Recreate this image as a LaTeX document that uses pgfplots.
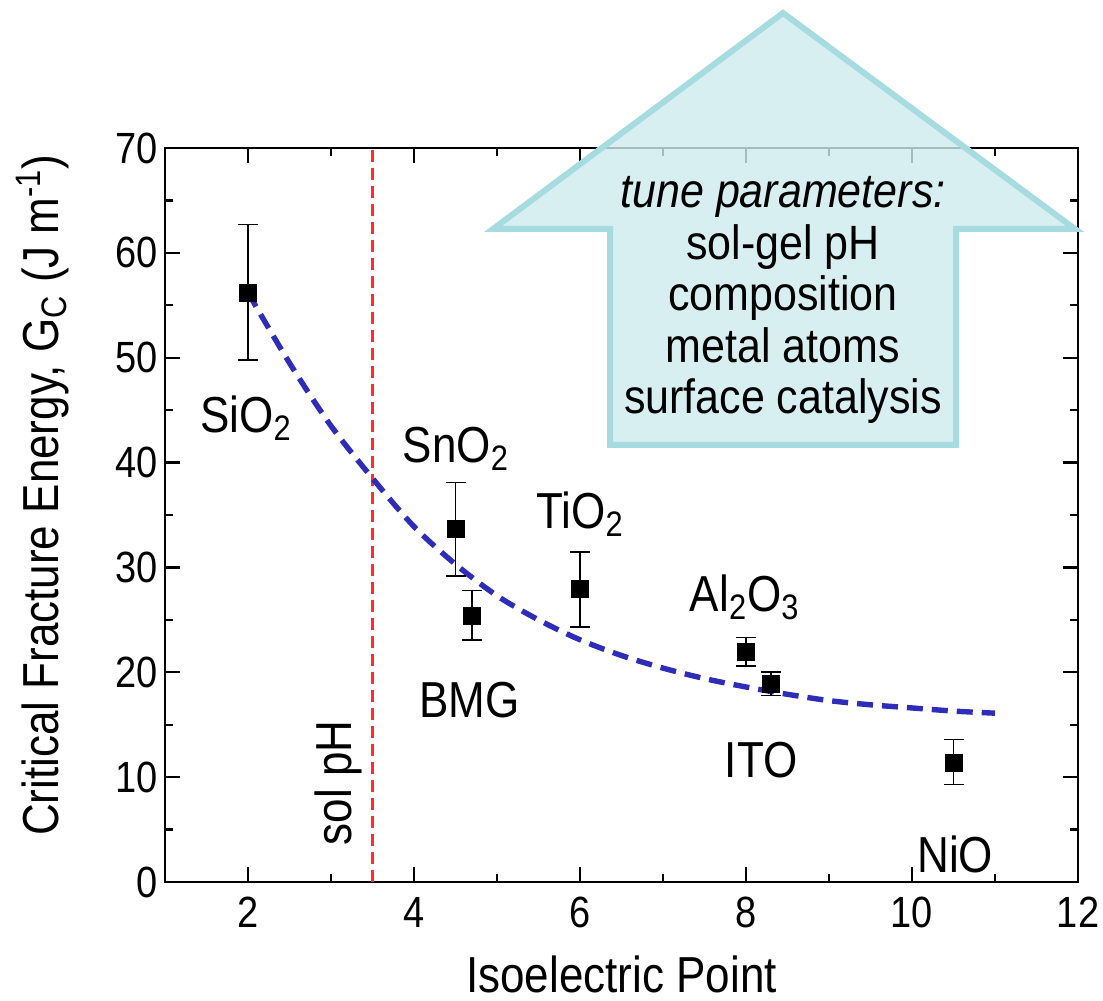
\documentclass[border=0pt]{standalone}
\usepackage{fontspec}
\setmainfont{Liberation Sans}
\usepackage{pgfplots}
\pgfplotsset{compat=1.18}
\definecolor{arrowfill}{RGB}{206,235,238}
\definecolor{arrowedge}{RGB}{166,220,223}
\definecolor{curveblue}{RGB}{45,45,185}
\definecolor{solred}{RGB}{255,45,45}
\begin{document}
\begin{tikzpicture}
\path[use as bounding box] (-82.5pt,-59.5pt) rectangle (469pt,441pt);
\begin{axis}[
  scale only axis, width=456.5pt, height=367pt,
  at={(0pt,0pt)}, anchor=south west,
  xmin=1, xmax=12, ymin=0, ymax=70,
  xtick={2,4,...,12}, ytick={0,10,...,70},
  minor x tick num=1, minor y tick num=1,
  tick align=inside,
  major tick length=7.5pt, minor tick length=4pt,
  every tick/.style={black, line width=1.2pt},
  axis line style={line width=1.4pt},
  tick label style={font=\fontsize{19}{19}\selectfont, yscale=1.15},
  /pgf/number format/assume math mode=true,
  xticklabel style={yshift=-3pt},
  label style={font=\fontsize{22}{22}\selectfont},
  xlabel={Isoelectric Point},
  xlabel style={at={(axis description cs:0.5,-0.15)}, anchor=base, inner sep=0pt, yscale=1.15},
  ylabel={Critical Fracture Energy, G\textsubscript{C} (J m\textsuperscript{-1})},
  ylabel style={at={(axis description cs:-0.117,0.527)}, anchor=base, inner sep=0pt, yscale=1.15},
  clip=false,
]
\addplot[solred, line width=1.5pt, dash pattern=on 6pt off 3pt] coordinates {(3.5,0) (3.5,70)};
\addplot[curveblue, line width=2.7pt, dash pattern=on 8pt off 4.5pt, smooth] coordinates {
(2,56.2) (2.5,49.5) (3,43.5) (3.5,38.5) (4,33.9) (4.5,30.3) (5,27.3) (5.5,25.0)
(6,23.1) (6.5,21.6) (7,20.4) (7.5,19.4) (8,18.6) (8.5,17.9) (9,17.3) (9.5,16.9)
(10,16.6) (10.5,16.3) (11,16.1)};
\addplot[only marks, mark=square*, mark size=4.25pt, black,
  error bars/.cd, y dir=both, y explicit,
  error bar style={line width=0.8pt, black},
  error mark options={rotate=90, mark size=5pt, line width=0.8pt, black}]
  table[x=x, y=y, y error plus=ep, y error minus=em] {
x y ep em
2 56.2 6.5 6.4
4.5 33.7 4.4 4.5
4.7 25.4 2.4 2.3
6 28.0 3.5 3.7
8 21.9 1.4 1.3
8.3 18.9 1.1 1.1
10.5 11.4 2.2 2.1
};
\begin{scope}[font=\fontsize{22}{22}\selectfont]
\node[anchor=base west, inner sep=0pt, yscale=1.15] at (axis cs:1.42,42.9) {SiO\textsubscript{2}};
\node[anchor=base west, inner sep=0pt, yscale=1.15] at (axis cs:3.86,40.0) {SnO\textsubscript{2}};
\node[anchor=base west, inner sep=0pt, yscale=1.15] at (axis cs:5.47,33.7) {TiO\textsubscript{2}};
\node[anchor=base west, inner sep=0pt, yscale=1.15] at (axis cs:4.06,15.7) {BMG};
\node[anchor=base west, inner sep=0pt, yscale=1.15] at (axis cs:7.32,25.8) {Al\textsubscript{2}O\textsubscript{3}};
\node[anchor=base west, inner sep=0pt, yscale=1.15] at (axis cs:7.74,10.0) {ITO};
\node[anchor=base west, inner sep=0pt, yscale=1.15] at (axis cs:10.06,0.95) {NiO};
\node[rotate=90, yscale=1.15, anchor=center, inner sep=0pt] at (axis cs:3.09,9.44) {sol pH};
\end{scope}
\end{axis}
\path[draw=arrowedge, line width=3pt, fill=arrowfill, fill opacity=0.8, draw opacity=1]
  (309pt,434.5pt) -- (455pt,326.5pt) -- (395.5pt,326.5pt) -- (395.5pt,218.5pt)
  -- (222.5pt,218.5pt) -- (222.5pt,326.5pt) -- (164pt,326.5pt) -- cycle;
\node[align=center, inner sep=0pt, yscale=1.12, font=\fontsize{21.5}{23}\selectfont] at (309pt,291pt)
  {\itshape tune parameters:\\ sol-gel pH\\ composition\\ metal atoms\\ surface catalysis};
\end{tikzpicture}
\end{document}
